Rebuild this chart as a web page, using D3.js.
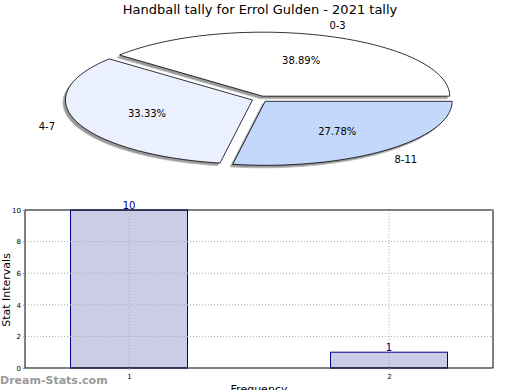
<html>
<head>
<script src="https://d3js.org/d3.v7.min.js"></script>
<style>
  body { margin: 0; background: #fff; }
  text { font-family: "DejaVu Sans", sans-serif; }
</style>
</head>
<body>
<svg width="520" height="390" id="chart"></svg>
<script>
var title = "Handball tally for Errol Gulden - 2021 tally";

// pie data
var pieLabels = ["0-3", "4-7", "8-11"];
var pieValues = [7, 6, 5];
var pieColors = ["#ffffff", "#eaf0fe", "#c4d8fc"];

// bar data
var barCats = [1, 2];
var barValues = [10, 1];
var yTicks = [0, 2, 4, 6, 8, 10];

var svg = d3.select("#chart");

svg.append("text")
  .attr("x", 260).attr("y", 14)
  .attr("text-anchor", "middle")
  .attr("font-size", 13)
  .text(title);

// ---- elliptical exploded pie ----
var cx = 260, cy = 99, rx = 187, ry = 64;
var total = d3.sum(pieValues);

// start at 3 o'clock, go counter-clockwise
var arcs = [];
var acc = 0;
pieValues.forEach(function(v, i) {
  var a0 = acc / total * 2 * Math.PI;
  acc += v;
  var a1 = acc / total * 2 * Math.PI;
  arcs.push({label: pieLabels[i], value: v, a0: a0, a1: a1, color: pieColors[i]});
});

function ellipsePt(a, f) {
  return [rx * f * Math.cos(a), -ry * f * Math.sin(a)];
}

function slicePath(d) {
  var p = d3.path();
  p.moveTo(0, 0);
  var n = 60;
  for (var k = 0; k <= n; k++) {
    var a = d.a0 + (d.a1 - d.a0) * k / n;
    var pt = ellipsePt(a, 1);
    p.lineTo(pt[0], pt[1]);
  }
  p.closePath();
  return p.toString();
}

var g = svg.append("g");
var slices = g.selectAll("g.slice").data(arcs).enter().append("g")
  .attr("transform", function(d) {
    var m = (d.a0 + d.a1) / 2;
    return "translate(" + (cx + 8 * Math.cos(m)) + "," + (cy - 3 * Math.sin(m)) + ")";
  });

// shadows
slices.append("path")
  .attr("d", slicePath)
  .attr("transform", "translate(-2.5,2.5)")
  .attr("fill", "#999")
  .attr("stroke", "#bbb")
  .attr("stroke-width", 1);

slices.append("path")
  .attr("d", slicePath)
  .attr("fill", function(d) { return d.color; })
  .attr("stroke", "#000")
  .attr("stroke-width", 0.8);

var fmt = d3.format(".2f");
slices.append("text")
  .attr("x", function(d) { return ellipsePt((d.a0 + d.a1) / 2, 0.6)[0]; })
  .attr("y", function(d) { return ellipsePt((d.a0 + d.a1) / 2, 0.6)[1] + 4; })
  .attr("text-anchor", "middle")
  .attr("font-size", 10)
  .text(function(d) { return fmt(d.value / total * 100) + "%"; });

slices.append("text")
  .attr("x", function(d) { return ellipsePt((d.a0 + d.a1) / 2, 1.17)[0]; })
  .attr("y", function(d) { return ellipsePt((d.a0 + d.a1) / 2, 1.18)[1] + 4; })
  .attr("text-anchor", "middle")
  .attr("font-size", 10)
  .text(function(d) { return d.label; });

// ---- bar chart ----
var pL = 25, pR = 493, pT = 210, pB = 368;
var x = d3.scaleLinear().domain([0.6, 2.4]).range([pL, pR]);
var y = d3.scaleLinear().domain([0, 10]).range([pB, pT]);
var bw = 0.45;

svg.append("g").selectAll("rect").data(barValues).enter().append("rect")
  .attr("x", function(d, i) { return x(barCats[i] - bw / 2); })
  .attr("width", function() { return x(bw) - x(0); })
  .attr("y", function(d) { return y(d); })
  .attr("height", function(d) { return pB - y(d); })
  .attr("fill", "#ccccE6")
  .attr("stroke", "#000080")
  .attr("stroke-width", 1);

// grid (drawn over the bars)
svg.append("g").selectAll("line").data(yTicks.slice(1, -1)).enter().append("line")
  .attr("x1", pL).attr("x2", pR)
  .attr("y1", function(d) { return y(d); }).attr("y2", function(d) { return y(d); })
  .attr("stroke", "#aaa").attr("stroke-dasharray", "1,2");

svg.append("g").selectAll("line").data(barCats).enter().append("line")
  .attr("x1", function(d) { return x(d); }).attr("x2", function(d) { return x(d); })
  .attr("y1", pT).attr("y2", pB)
  .attr("stroke", "#aaa").attr("stroke-dasharray", "1,2");

svg.append("g").selectAll("text").data(barValues).enter().append("text")
  .attr("x", function(d, i) { return x(barCats[i]); })
  .attr("y", function(d) { return y(d) - 1; })
  .attr("text-anchor", "middle")
  .attr("font-size", 10)
  .attr("fill", "#000080")
  .text(function(d) { return d; });

// frame
svg.append("rect")
  .attr("x", pL).attr("y", pT)
  .attr("width", pR - pL).attr("height", pB - pT)
  .attr("fill", "none").attr("stroke", "#000").attr("stroke-width", 1);

var yAxis = svg.append("g")
  .attr("transform", "translate(" + pL + ",0)")
  .call(d3.axisLeft(y).tickValues(yTicks).tickSize(2).tickPadding(2));
yAxis.select(".domain").remove();
yAxis.selectAll("text").attr("font-size", 7).attr("font-family", "DejaVu Sans");
yAxis.selectAll("line").attr("stroke", "#999");

var yAxisR = svg.append("g")
  .attr("transform", "translate(" + pR + ",0)")
  .call(d3.axisLeft(y).tickValues(yTicks).tickSize(2).tickFormat(""));
yAxisR.select(".domain").remove();
yAxisR.selectAll("line").attr("stroke", "#999");

var xAxis = svg.append("g")
  .attr("transform", "translate(0," + pB + ")")
  .call(d3.axisBottom(x).tickValues(barCats).tickSize(2).tickPadding(4).tickFormat(d3.format("d")));
xAxis.select(".domain").remove();
xAxis.selectAll("text").attr("font-size", 7).attr("font-family", "DejaVu Sans");
xAxis.selectAll("line").attr("stroke", "#999");

svg.append("text")
  .attr("transform", "translate(9.5," + ((pT + pB) / 2 + 1) + ") rotate(-90)")
  .attr("text-anchor", "middle")
  .attr("font-size", 11)
  .text("Stat Intervals");

svg.append("text")
  .attr("x", (pL + pR) / 2).attr("y", 393)
  .attr("text-anchor", "middle")
  .attr("font-size", 11)
  .text("Frequency");

svg.append("text")
  .attr("x", 0).attr("y", 384)
  .attr("font-size", 11)
  .attr("font-weight", "bold")
  .attr("fill", "#999")
  .text("Dream-Stats.com");
</script>
</body>
</html>
